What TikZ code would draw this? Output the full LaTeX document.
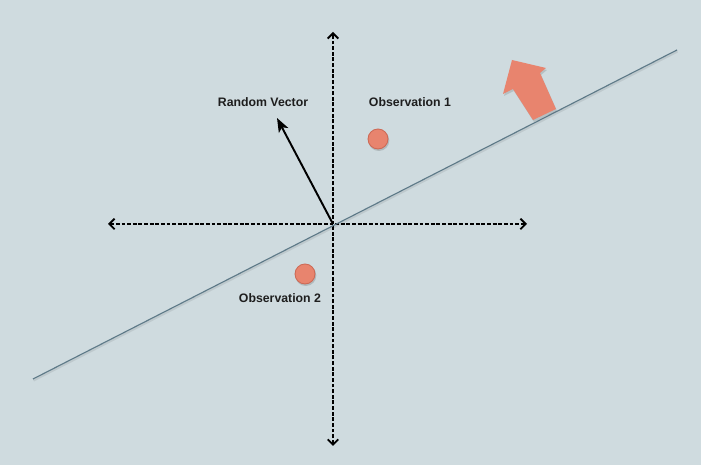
\documentclass[tikz,border=0pt]{standalone}
\usepackage{fontspec}
\setmainfont{Liberation Sans}
\usetikzlibrary{arrows.meta,calc}

\definecolor{bgcol}{RGB}{207,219,223}
\definecolor{obscol}{RGB}{232,132,110}
\definecolor{obsedge}{RGB}{205,105,85}
\definecolor{linecol}{RGB}{94,122,136}
\definecolor{txtcol}{RGB}{30,30,30}

\tikzset{
  axis/.style={draw=black,line width=0.8pt,dash pattern=on 2.2pt off 1pt,
    {Straight Barb[length=3pt,width=6pt,line width=1.1pt]}-{Straight Barb[length=3pt,width=6pt,line width=1.1pt]}},
  obs/.style={circle,fill=obscol,draw=obsedge,line width=0.5pt,inner sep=0pt,minimum size=0.4cm},
  lbl/.style={font=\fontsize{7}{8}\selectfont\bfseries,text=txtcol}
}

\begin{document}
\begin{tikzpicture}[x=0.02cm,y=-0.02cm]
           \fill[bgcol] (0,0) rectangle (701,465);
           \useasboundingbox (0,0) rectangle (701,465);
           \coordinate (o) at (333,224);
           \coordinate (l) at (108,224);
           \coordinate (r) at (527,224);
           \coordinate (t) at (333,32);
           \coordinate (d) at (333,446);
           \coordinate (v) at (277,118);
           \coordinate (p) at (33,379);
           \coordinate (q) at (677,50);
           \draw[axis] (l) -- (r);
           \draw[axis] (d) -- (t);
           \draw[black,opacity=0.08,line width=1.2pt] ($(p)+(0.5,1.5)$) -- ($(q)+(0.5,1.5)$);
           \draw[linecol,line width=0.65pt] (p) -- (q);
           \draw[black,line width=1.1pt,-{Stealth[length=8pt,width=6pt,inset=2pt]}] (o) -- (v);
           \node[lbl] (vlab) at (263,102) {Random Vector};
           \fill[black,opacity=0.15] (378.8,140.5) circle (10.5);
           \node[obs] (obs1) at (378,139) {};
           \node[lbl] (o1lab) at (410,102) {Observation 1};
           \fill[black,opacity=0.15] (305.8,275.5) circle (10.5);
           \node[obs] (obs2) at (305,274) {};
           \node[lbl] (o2lab) at (280,298) {Observation 2};
           \fill[black,opacity=0.12] (513,62) -- (547,70) -- (541,75) -- (557,111) -- (534,122) -- (514,91) -- (504,96) -- cycle;
           \fill[obscol] (512,60) -- (546,68) -- (540,73) -- (556,109) -- (533,120) -- (513,89) -- (503,94) -- cycle;
        \end{tikzpicture}
\end{document}
